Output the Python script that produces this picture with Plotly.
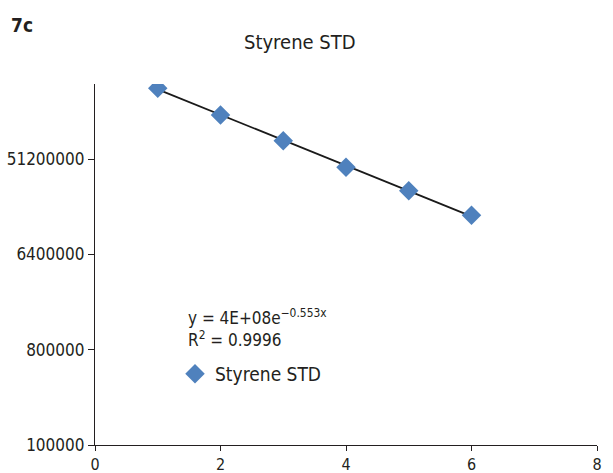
import numpy as np
import plotly.graph_objects as go

x_vals = [1, 2, 3, 4, 5, 6]
y_vals = [2.40e8, 1.34e8, 7.61e7, 4.29e7, 2.56e7, 1.50e7]
y_tickvals = [100000, 800000, 6400000, 51200000]
y_ticktext = ["100000", "800000", "6400000", "51200000"]
x_tickvals = [0, 2, 4, 6, 8]
series_name = "Styrene STD"

FONT = "DejaVu Sans Condensed, Liberation Sans Narrow, Roboto, sans-serif"

L, R, T, B = 95, 597, 84, 445
W, H = R - L, B - T


def px(xp):
    return (xp - L) / W


def py(yp):
    return (B - yp) / H


# exponential trendline fitted to the data
b, ln_a = np.polyfit(np.array(x_vals, dtype=float), np.log(np.array(y_vals)), 1)
tx = np.linspace(min(x_vals), max(x_vals), 50)
ty = np.exp(ln_a) * np.exp(b * tx)

fig = go.Figure()
fig.add_trace(go.Scatter(x=tx, y=ty, mode="lines", line=dict(color="#1a1a1a", width=1.8),
                         showlegend=False, hoverinfo="skip"))
fig.add_trace(go.Scatter(x=x_vals, y=y_vals, mode="markers", name=series_name,
                         marker=dict(symbol="diamond", size=15, color="#4F81BD")))

fig.update_layout(
    width=613, height=473,
    margin=dict(l=L, r=613 - R, t=T, b=473 - B, autoexpand=False),
    paper_bgcolor="white", plot_bgcolor="white",
    font=dict(family=FONT, size=16, color="#231f20"),
    showlegend=True,
    legend=dict(x=px(175), y=py(355), xanchor="left", yanchor="top", bgcolor="rgba(0,0,0,0)",
                font=dict(size=19, family=FONT), itemwidth=30),
    annotations=[
        dict(text="<b>7c</b>", x=px(9), y=py(25), xref="paper", yref="paper", showarrow=False,
             font=dict(size=19, family=FONT), xanchor="left", yanchor="middle"),
        dict(text="Styrene STD", x=px(300), y=py(42), xref="paper", yref="paper", showarrow=False,
             xanchor="center", yanchor="middle", font=dict(size=20, family=FONT)),
        dict(text="y = 4E+08e<sup>−0.553x</sup>", xref="paper", yref="paper",
             x=px(186), y=py(317), xanchor="left", yanchor="middle", align="left",
             showarrow=False, font=dict(size=17, family=FONT)),
        dict(text="R<sup>2</sup> = 0.9996", xref="paper", yref="paper",
             x=px(186), y=py(339), xanchor="left", yanchor="middle", align="left",
             showarrow=False, font=dict(size=17, family=FONT)),
    ],
)

fig.update_xaxes(range=[0, 8], tickvals=x_tickvals, ticks="outside", ticklen=5, tickcolor="#231f20",
                 showline=True, linecolor="#231f20", linewidth=1.2, showgrid=False, zeroline=False,
                 automargin=False, tickfont=dict(size=16, family=FONT))
fig.update_yaxes(type="log", range=[5, 8.42], tickvals=y_tickvals, ticktext=y_ticktext,
                 ticks="outside", ticklen=6, tickcolor="#231f20",
                 showline=True, linecolor="#231f20", linewidth=1.2, showgrid=False, zeroline=False,
                 automargin=False, tickfont=dict(size=17, family=FONT))

fig.write_html("out.html")
